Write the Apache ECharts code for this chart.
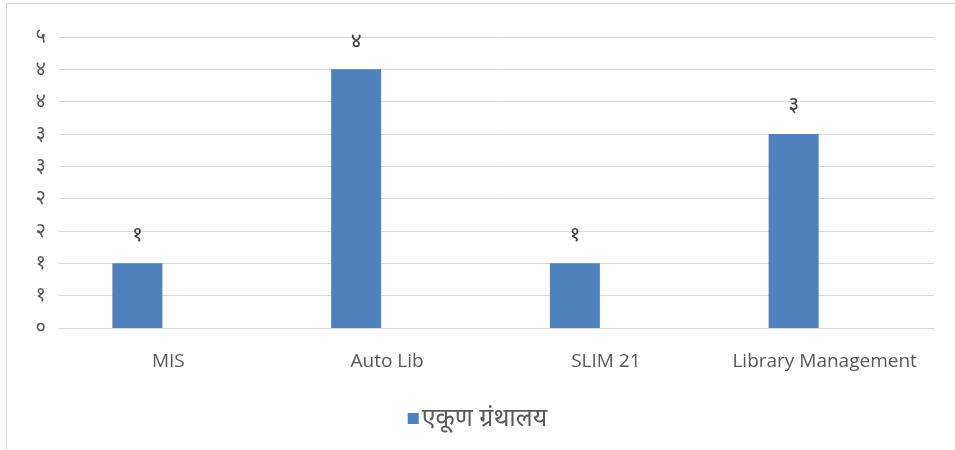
<!DOCTYPE html>
<html>
<head>
<meta charset="utf-8">
<script src="https://cdn.jsdelivr.net/npm/echarts@6/dist/echarts.min.js"></script>
<style>
  html, body { margin: 0; padding: 0; background: #fff; }
  #frame { position: absolute; left: 6px; top: 3px; width: 960px; height: 460px;
           border-left: 1px solid #d9d9d9; border-top: 1px solid #d9d9d9; }
  #chart { position: absolute; left: 0; top: 0; width: 955px; height: 450px; }
</style>
</head>
<body>
<div id="frame"></div>
<div id="chart"></div>
<script>
// data
const categories = ['MIS', 'Auto Lib', 'SLIM 21', 'Library Management'];
const seriesName = 'एकूण ग्रंथालय';
const totals = [1, 4, 1, 3];
const emptySeries = [null, null, null, null];
const devDigits = ['०', '१', '२', '३', '४', '५', '६', '७', '८', '९'];

const toDev = v => String(Math.round(v)).split('').map(d => devDigits[+d] || d).join('');

const chart = echarts.init(document.getElementById('chart'));
const font = "'Open Sans', 'Noto Sans', 'Noto Sans CJK SC', sans-serif";

chart.setOption({
  animation: false,
  textStyle: { fontFamily: font },
  grid: { left: 59, right: 21, top: 37, bottom: 122 },
  legend: {
    data: [{ name: seriesName, icon: 'rect' }],
    bottom: 14,
    left: 'center',
    itemWidth: 11,
    itemHeight: 11,
    itemGap: 6,
    textStyle: { fontSize: 25, color: '#595959', fontFamily: font, padding: [0, 0, 0, -2] }
  },
  xAxis: {
    type: 'category',
    data: categories,
    axisLine: { lineStyle: { color: '#d9d9d9' } },
    axisTick: { show: false },
    axisLabel: { interval: 0, fontSize: 19, color: '#595959', margin: 24, fontFamily: font }
  },
  yAxis: {
    type: 'value',
    min: 0,
    max: 4.5,
    interval: 0.5,
    axisLine: { show: false },
    axisTick: { show: false },
    splitLine: { lineStyle: { color: '#d9d9d9', width: 1 } },
    axisLabel: { fontSize: 20, color: '#595959', margin: 13, formatter: toDev, fontFamily: font }
  },
  series: [
    {
      name: seriesName,
      type: 'bar',
      data: totals,
      barWidth: 50,
      barGap: '24%',
      itemStyle: { color: '#4f81bd' },
      label: {
        show: true,
        position: 'top',
        distance: 18,
        fontSize: 21,
        color: '#404040',
        formatter: p => toDev(p.value),
        fontFamily: font
      }
    },
    {
      name: 'blank',
      type: 'bar',
      data: emptySeries,
      barWidth: 50,
      itemStyle: { color: '#c0504d' }
    }
  ]
});
</script>
</body>
</html>
